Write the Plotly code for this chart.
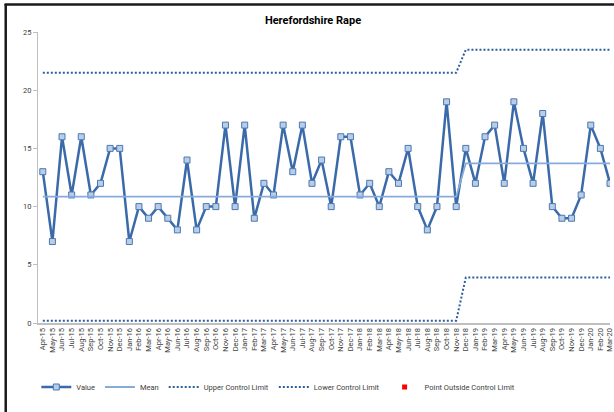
import plotly.graph_objects as go

months = ["Apr-15","May-15","Jun-15","Jul-15","Aug-15","Sep-15","Oct-15","Nov-15","Dec-15",
          "Jan-16","Feb-16","Mar-16","Apr-16","May-16","Jun-16","Jul-16","Aug-16","Sep-16","Oct-16","Nov-16","Dec-16",
          "Jan-17","Feb-17","Mar-17","Apr-17","May-17","Jun-17","Jul-17","Aug-17","Sep-17","Oct-17","Nov-17","Dec-17",
          "Jan-18","Feb-18","Mar-18","Apr-18","May-18","Jun-18","Jul-18","Aug-18","Sep-18","Oct-18","Nov-18","Dec-18",
          "Jan-19","Feb-19","Mar-19","Apr-19","May-19","Jun-19","Jul-19","Aug-19","Sep-19","Oct-19","Nov-19","Dec-19",
          "Jan-20","Feb-20","Mar-20"]

values = [13, 7, 16, 11, 16, 11, 12, 15, 15,
          7, 10, 9, 10, 9, 8, 14, 8, 10, 10, 17, 10,
          17, 9, 12, 11, 17, 13, 17, 12, 14, 10, 16, 16,
          11, 12, 10, 13, 12, 15, 10, 8, 10, 19, 10, 15,
          12, 16, 17, 12, 19, 15, 12, 18, 10, 9, 9, 11,
          17, 15, 12]

# Two phases of the control chart (Apr-15..Nov-18, Dec-18..Mar-20)
phase_lengths = [44, 16]
phase_mean = [10.85, 13.72]
phase_ucl = [21.5, 23.48]
phase_lcl = [0.2, 3.9]

y_ticks = [0, 5, 10, 15, 20, 25]


def expand(levels):
    out = []
    for n, v in zip(phase_lengths, levels):
        out += [v] * n
    return out


mean_line = expand(phase_mean)
ucl_line = expand(phase_ucl)
lcl_line = expand(phase_lcl)

out_x = [m for m, v, u, l in zip(months, values, ucl_line, lcl_line) if v > u or v < l]
out_y = [v for v, u, l in zip(values, ucl_line, lcl_line) if v > u or v < l]

FONT = "Liberation Sans Narrow, Roboto, Arial, sans-serif"
BLUE = "#3a6aa9"
W, H = 614, 412
ML, MR, MT, MB = 38, 0, 32, 89

fig = go.Figure()
fig.add_trace(go.Scatter(x=months, y=values, name="Value", mode="lines+markers",
                         line=dict(color=BLUE, width=2.5),
                         marker=dict(symbol="square", size=6, color="#b9cde6",
                                     line=dict(color="#4a78b3", width=1))))
fig.add_trace(go.Scatter(x=months, y=mean_line, name="Mean", mode="lines",
                         line=dict(color="#86acd9", width=1.8)))
fig.add_trace(go.Scatter(x=months, y=ucl_line, name="Upper Control Limit", mode="lines",
                         line=dict(color="#2c5d9e", width=2, dash="2px,2px")))
fig.add_trace(go.Scatter(x=months, y=lcl_line, name="Lower Control Limit", mode="lines",
                         line=dict(color="#2c5d9e", width=2, dash="2px,2px")))
fig.add_trace(go.Scatter(x=out_x if out_x else [None], y=out_y if out_y else [None],
                         name="Point Outside Control Limit", mode="markers",
                         marker=dict(symbol="square", size=5, color="#ff0000")))

pw = W - ML - MR
ph = H - MT - MB
def px_x(p):
    return (p - ML) / pw
def px_y(p):
    return (H - MB - p) / ph

fig.update_layout(
    width=W, height=H,
    margin=dict(l=ML, r=MR, t=MT, b=MB),
    paper_bgcolor="white", plot_bgcolor="white",
    font=dict(family=FONT, size=8, color="#404040"),
    title=dict(text="<b>Herefordshire Rape</b>", x=313 / W, xanchor="center",
               y=1 - 20 / H, yanchor="middle",
               font=dict(family=FONT, size=11, color="#000000")),
    xaxis=dict(type="category", categoryorder="array", categoryarray=months,
               range=[-0.5, 59.0], tickangle=-90, tickfont=dict(size=7.5, color="#404040"),
               showgrid=False, showline=True, linecolor="#bfbfbf", linewidth=2,
               ticks="", zeroline=False),
    yaxis=dict(range=[0, 25], tickvals=y_ticks, showgrid=False, showline=True,
               linecolor="#bfbfbf", linewidth=1, ticks="outside", ticklen=4,
               tickcolor="#bfbfbf", tickfont=dict(size=7.5, color="#404040"),
               zeroline=False),
    legend=dict(orientation="h", x=px_x(280), xanchor="center", y=px_y(387), yanchor="middle",
                font=dict(size=7.5, color="#404040"), itemwidth=30, traceorder="normal",
                bgcolor="rgba(0,0,0,0)"),
    showlegend=True,
    shapes=[
        dict(type="line", xref="paper", yref="paper", x0=px_x(5.5), x1=px_x(5.5),
             y0=px_y(4), y1=px_y(H + 5), line=dict(color="#1a1a1a", width=2.5)),
        dict(type="line", xref="paper", yref="paper", x0=px_x(4.3), x1=px_x(W + 5),
             y0=px_y(4.5), y1=px_y(4.5), line=dict(color="#1a1a1a", width=2.5)),
    ],
)

fig.write_html("out.html", config={"displayModeBar": False},
               post_script="document.body.style.margin='0';document.body.style.overflow='hidden';")
